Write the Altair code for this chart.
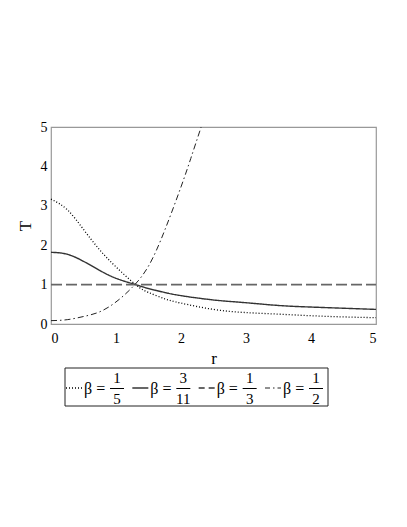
import altair as alt
import pandas as pd

# ---- data ----
series_names = ["b15", "b311", "b13", "b12"]
beta_num = ["1", "3", "1", "1"]
beta_den = ["5", "11", "3", "2"]

r_common = [0, 0.25, 0.5, 0.75, 1.0, 1.3, 1.5, 1.75, 2.0, 2.5, 3.0, 3.5, 4.0, 4.5, 5.0]
T_b15 = [3.17, 2.9, 2.4, 1.88, 1.45, 1.0, 0.8, 0.64, 0.53, 0.37, 0.29, 0.25, 0.21, 0.18, 0.16]
T_b311 = [1.82, 1.77, 1.59, 1.36, 1.16, 1.0, 0.9, 0.8, 0.72, 0.61, 0.54, 0.47, 0.43, 0.40, 0.37]
r_b13 = [0, 5]
T_b13 = [1, 1]
r_b12 = [0, 0.25, 0.5, 0.75, 1.0, 1.25, 1.5, 1.75, 2.0, 2.15, 2.31]
T_b12 = [0.085, 0.11, 0.19, 0.31, 0.56, 0.93, 1.47, 2.38, 3.48, 4.2, 5.0]

x_ticks = [0, 1, 2, 3, 4, 5]
y_ticks = [0, 1, 2, 3, 4, 5]

rows = []
for rr, tt in zip(r_common, T_b15):
    rows.append({"r": rr, "T": tt, "s": "b15"})
for rr, tt in zip(r_common, T_b311):
    rows.append({"r": rr, "T": tt, "s": "b311"})
for rr, tt in zip(r_b13, T_b13):
    rows.append({"r": rr, "T": tt, "s": "b13"})
for rr, tt in zip(r_b12, T_b12):
    rows.append({"r": rr, "T": tt, "s": "b12"})
df = pd.DataFrame(rows)

leg = pd.DataFrame({
    "idx": list(range(len(series_names))),
    "s": series_names,
    "num": beta_num,
    "den": beta_den,
    "lab": ["β ="] * len(series_names),
})

FONT = "Liberation Serif"
styles = {
    "b15": dict(dash=[1, 2], ldash=[1, 2], color="#000000", width=1.3),
    "b311": dict(dash=[1, 0], ldash=[1, 0], color="#333333", width=1.4),
    "b13": dict(dash=[11, 4], ldash=[6, 4], color="#666666", width=1.8),
    "b12": dict(dash=[6, 3, 1.5, 3], ldash=[5, 3, 1.5, 3], color="#222222", width=1.0),
}

xenc = alt.X("r:Q", title="r",
             scale=alt.Scale(domain=[0, 5], nice=False),
             axis=alt.Axis(values=x_ticks, format="d", labelPadding=7, titlePadding=5))
yenc = alt.Y("T:Q", title="T",
             scale=alt.Scale(domain=[0, 5], nice=False),
             axis=alt.Axis(values=y_ticks, format="d", labelPadding=4, titlePadding=6))

layers = []
for s in series_names:
    st = styles[s]
    layers.append(
        alt.Chart(df).transform_filter(alt.datum.s == s).mark_line(
            interpolate="natural", strokeDash=st["dash"], color=st["color"], strokeWidth=st["width"]
        ).encode(x=xenc, y=yenc)
    )
main = alt.layer(*layers)

lx = alt.X("idx:Q", scale=alt.Scale(domain=[0, 3], range=[15, 214]), axis=None)

leg_layers = []
leg_layers.append(
    alt.Chart(pd.DataFrame({"a": [0]})).mark_rect(fill=None, stroke="#222222", strokeWidth=1).encode(
        x=alt.value(14), x2=alt.value(277), y=alt.value(241), y2=alt.value(279))
)
for s in series_names:
    st = styles[s]
    leg_layers.append(
        alt.Chart(leg).transform_filter(alt.datum.s == s).mark_rule(
            x2Offset=16, strokeDash=st["ldash"], color=st["color"], strokeWidth=st["width"]
        ).encode(x=lx, x2="idx:Q", y=alt.value(261))
    )
leg_layers.append(alt.Chart(leg).mark_text(align="left", baseline="middle", dx=18, font=FONT, fontSize=16).encode(
    x=lx, y=alt.value(262), text="lab:N"))
leg_layers.append(alt.Chart(leg).mark_text(align="center", baseline="middle", dx=51, font=FONT, fontSize=15).encode(
    x=lx, y=alt.value(251), text="num:N"))
leg_layers.append(alt.Chart(leg).mark_text(align="center", baseline="middle", dx=51, font=FONT, fontSize=15).encode(
    x=lx, y=alt.value(272), text="den:N"))
leg_layers.append(alt.Chart(leg).mark_rule(xOffset=44, x2Offset=58, color="black", strokeWidth=1).encode(
    x=lx, x2="idx:Q", y=alt.value(261.5)))
legend = alt.layer(*leg_layers)

chart = alt.layer(main, legend).resolve_scale(
    x="independent"
).properties(
    width=325, height=197,
    padding={"left": 43, "top": 119, "right": 20, "bottom": 100},
    autosize="none",
).configure_view(
    stroke="#999999", strokeWidth=1.2
).configure_axis(
    labelFont=FONT, labelFontSize=14, labelColor="#000000",
    titleFont=FONT, titleFontSize=17, titleFontWeight="normal", titleColor="#000000",
    domain=False, ticks=False, grid=False,
)

chart.save("out.html", embed_options={"renderer": "svg", "actions": False})
